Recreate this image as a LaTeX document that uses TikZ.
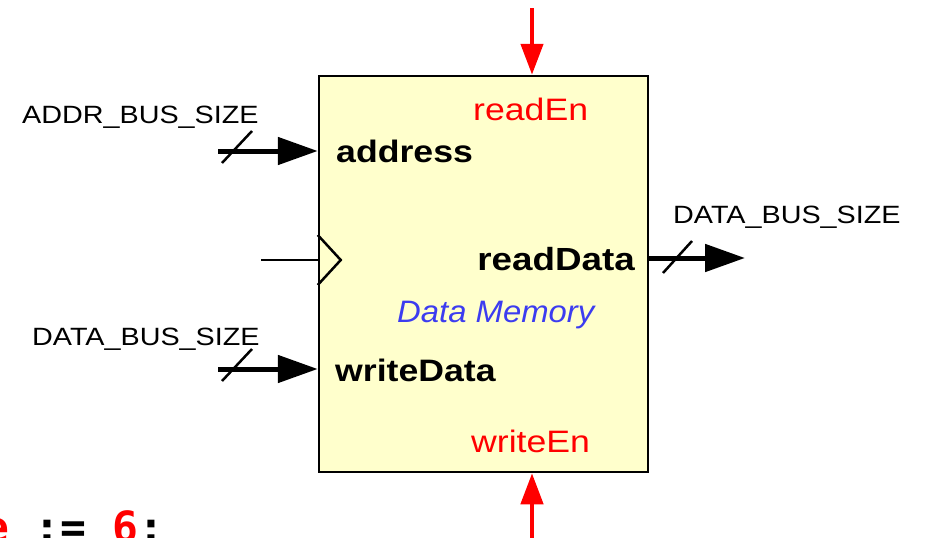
\documentclass[tikz,border=0pt]{standalone}
\usepackage{fontspec}
\setmainfont[FakeStretch=1.15]{Liberation Sans}
\newfontfamily\titlefont[FakeStretch=1.06]{Liberation Sans}
\newfontfamily\codefont{DejaVu Sans Mono}
\usetikzlibrary{arrows.meta}
\definecolor{memfill}{RGB}{255,255,204}
\definecolor{memblue}{RGB}{60,60,240}
\definecolor{memred}{RGB}{255,0,0}
\tikzset{
	bus/.style={line width=5pt, -{Triangle[length=40pt,width=27pt]}},
	ctrl/.style={memred, line width=4.5pt, -{Triangle[length=31pt,width=22pt]}},
	slash/.style={line width=2.5pt},
	pin/.style={inner sep=0pt, anchor=base west, font=\fontsize{31}{36}\selectfont},
	buslabel/.style={inner sep=0pt, anchor=base west, font=\fontsize{25}{30}\selectfont}
}
\begin{document}
\begin{tikzpicture}[x=1pt, y=-1pt]
	\useasboundingbox (0,0) rectangle (927,538);
	\node[draw, line width=2.5pt, fill=memfill, minimum width=329pt, minimum height=396pt, inner sep=0pt] (mem) at (483.5,274) {};

	\coordinate (addrIn) at (218,151);
	\coordinate (wdIn) at (218,369);
	\coordinate (clkIn) at (261,260);
	\coordinate (rdOut) at (745,258);
	\coordinate (renIn) at (532,8);
	\coordinate (wenIn) at (532,538);

		\draw[bus] (addrIn) -- (addrIn -| mem.west);
		\draw[bus] (wdIn) -- (wdIn -| mem.west);
		\draw[bus] (rdOut -| mem.east) -- (rdOut);
		\draw[ctrl] (renIn) -- (renIn |- mem.north);
		\draw[ctrl] (wenIn) -- (wenIn |- mem.south);

		\draw[slash] ([shift={(4,12)}]addrIn) -- ++(30,-32);
		\draw[slash] ([shift={(4,12)}]wdIn) -- ++(30,-32);
		\draw[slash] ([shift={(-82,15)}]rdOut) -- ++(29,-32);

	\coordinate (clk) at (clkIn -| mem.west);
	\draw[line width=2.5pt] (clkIn) -- (clk);
	\draw[line width=2.5pt, line join=miter] ([shift={(0,-25)}]clk) -- ([shift={(23,0)}]clk) -- ([shift={(0,25)}]clk);

	\node[buslabel] (addrSize) at (22,123) {ADDR\_BUS\_SIZE};
	\node[buslabel] (wdSize) at (32,345) {DATA\_BUS\_SIZE};
	\node[buslabel] (rdSize) at (673,223) {DATA\_BUS\_SIZE};

	\node[pin, font=\fontsize{31}{36}\selectfont\bfseries] (addrTxt) at (336,162) {address};
	\node[pin, font=\fontsize{31}{36}\selectfont\bfseries] (wdTxt) at (335,381) {writeData};
	\node[pin, font=\fontsize{32}{36}\selectfont\bfseries, anchor=base east] (rdTxt) at (635,270) {readData};
	\node[pin, text=memred] (renTxt) at (473,120) {readEn};
	\node[pin, text=memred] (wenTxt) at (471,452) {writeEn};
	\node[pin, text=memblue, font=\fontsize{31}{36}\titlefont\itshape] (memTxt) at (397,322) {Data Memory};

	\node[inner sep=0pt, anchor=base west, font=\fontsize{43}{50}\codefont\bfseries] (code) at (-17,542) {\textcolor{memred}{e} := \textcolor{memred}{6};};
\end{tikzpicture}
\end{document}
